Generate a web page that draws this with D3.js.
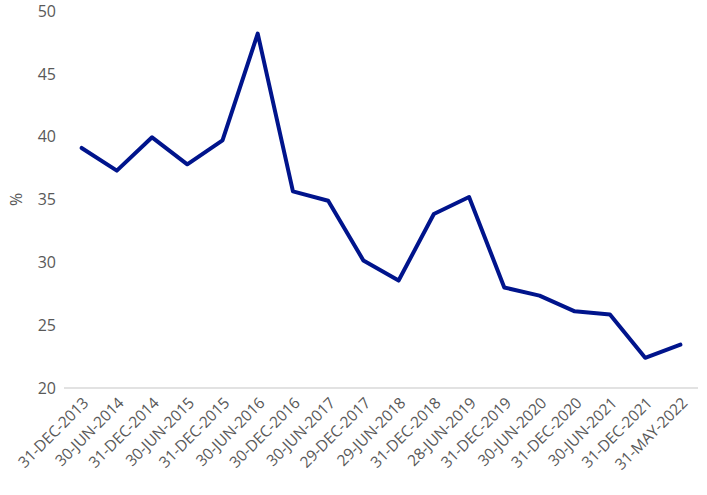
<!DOCTYPE html>
<html><head><meta charset="utf-8">
<script src="https://cdn.jsdelivr.net/npm/d3@7"></script>
<style>body{margin:0;background:#fff}</style>
</head><body><svg id="c" width="707" height="495"></svg>
<script>
const categories = ["31-DEC-2013","30-JUN-2014","31-DEC-2014","30-JUN-2015","31-DEC-2015","30-JUN-2016","30-DEC-2016","30-JUN-2017","29-DEC-2017","29-JUN-2018","31-DEC-2018","28-JUN-2019","31-DEC-2019","30-JUN-2020","31-DEC-2020","30-JUN-2021","31-DEC-2021","31-MAY-2022"];
const values = [39.1, 37.3, 39.95, 37.8, 39.7, 48.2, 35.65, 34.9, 30.15, 28.55, 33.85, 35.2, 28.0, 27.35, 26.1, 25.85, 22.4, 23.45];
const yTicks = [20, 25, 30, 35, 40, 45, 50];

(function () {
const svg = d3.select("#c");
const mLeft = 64, mRight = 698, mTop = 11, mBottom = 388;
const x = d3.scalePoint().domain(categories).range([mLeft, mRight]).padding(0.5);
const y = d3.scaleLinear().domain([20, 50]).range([mBottom, mTop]);
const font = "'Open Sans', sans-serif";

svg.append("g").selectAll("text").data(yTicks).join("text")
  .attr("x", 56).attr("y", d => y(d)).attr("dy", "0.36em")
  .attr("text-anchor", "end").attr("fill", "#595959")
  .style("font-family", font).style("font-size", "16px")
  .text(d => d);

svg.append("text").attr("transform", `translate(22,${(mTop+mBottom)/2}) rotate(-90)`)
  .attr("text-anchor", "middle").attr("fill", "#595959")
  .style("font-family", font).style("font-size", "16px").text("%");

svg.append("line").attr("x1", mLeft).attr("x2", mRight).attr("y1", mBottom).attr("y2", mBottom)
  .attr("stroke", "#d9d9d9").attr("stroke-width", 1.5);

svg.append("g").selectAll("text").data(categories).join("text")
  .attr("transform", d => `translate(${x(d)+4},${mBottom+12}) rotate(-45)`)
  .attr("text-anchor", "end").attr("dy", "0.36em").attr("fill", "#595959")
  .style("font-family", font).style("font-size", "15.5px")
  .style("letter-spacing", "-0.1px")
  .text(d => d);

const line = d3.line().x((d, i) => x(categories[i])).y(d => y(d));
svg.append("path").datum(values).attr("d", line)
  .attr("fill", "none").attr("stroke", "#00148C").attr("stroke-width", 4)
  .attr("stroke-linejoin", "round").attr("stroke-linecap", "round");
})();
</script></body></html>
